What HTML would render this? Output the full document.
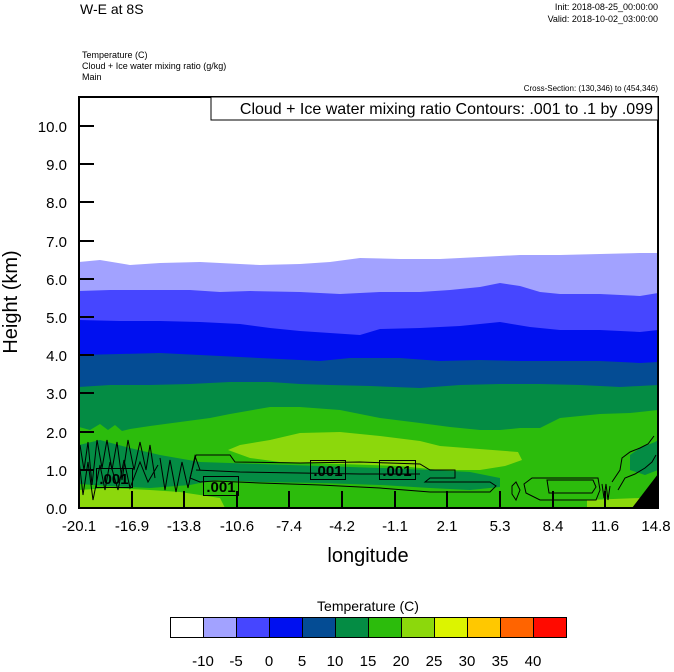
<!DOCTYPE html>
<html><head><meta charset="utf-8"><style>
body{margin:0;background:#fff;}
svg text{font-family:"Liberation Sans",Arial,sans-serif;}
</style></head><body>
<svg width="674" height="667" viewBox="0 0 674 667" xmlns="http://www.w3.org/2000/svg">
<rect width="674" height="667" fill="#fff"/>
<text x="80" y="14" font-size="14">W-E at 8S</text>
<text x="658" y="10" font-size="9" text-anchor="end">Init: 2018-08-25_00:00:00</text>
<text x="658" y="22" font-size="9" text-anchor="end">Valid: 2018-10-02_03:00:00</text>
<text x="82" y="58" font-size="9">Temperature   (C)</text>
<text x="82" y="69" font-size="9">Cloud + Ice water mixing ratio   (g/kg)</text>
<text x="82" y="80" font-size="9">Main</text>
<text x="658" y="91" font-size="8" text-anchor="end">Cross-Section: (130,346) to (454,346)</text>
<g>
<clipPath id="c"><rect x="79" y="97" width="579" height="411"/></clipPath>
<g clip-path="url(#c)">
<rect x="79" y="97" width="579" height="411" fill="#fff"/>
<polygon fill="#a2a2ff" points="79,262 100,260 130,265 160,263 200,262 240,264 260,265 300,264 330,262 360,258 400,259 440,259 480,257 520,255 560,255 600,254 640,253 658,253 658,508 79,508"/>
<polygon fill="#4646ff" points="79,291 110,290 150,290 190,290 220,292 250,291 300,292 340,294 380,292 420,292 450,290 480,287 500,283 520,286 540,292 560,294 600,294 640,296 658,293 658,508 79,508"/>
<polygon fill="#0010f0" points="79,320 120,321 160,321 200,322 240,324 270,328 300,331 330,333 360,335 380,329 420,328 460,326 500,322 530,327 560,330 600,330 640,332 658,330 658,508 79,508"/>
<polygon fill="#044c94" points="79,355 120,354 160,353 200,355 240,357 280,359 320,361 350,358 400,358 440,361 480,360 520,361 560,361 600,361 640,363 658,362 658,508 79,508"/>
<polygon fill="#048c44" points="79,387 110,385 150,385 190,384 230,382 270,382 300,384 330,385 370,386 420,388 460,385 500,384 540,384 580,385 620,387 658,385 658,508 79,508"/>
<polygon fill="#2cbc0c" points="79,427 90,430 100,424 108,430 115,425 122,431 130,429 150,426 180,422 210,418 230,414 270,407 300,407 340,410 380,418 420,423 450,427 480,430 500,430 520,428 540,428 550,423 560,418 580,416 600,414 630,413 658,410 658,508 79,508"/>
<polygon fill="#8cd80c" points="228,450 240,445 270,440 300,433 340,432 380,436 420,441 440,446 518,452 522,460 505,466 480,470 440,470 400,466 340,464 280,462 250,458"/>
<polygon fill="#048c44" points="79,445 100,440 130,448 160,455 200,462 260,464 320,466 380,468 430,470 470,472 500,478 500,487 470,490 430,488 380,485 320,483 260,482 215,480 190,485 150,488 110,486 79,484"/>
<polygon fill="#048c44" points="630,455 640,448 655,442 658,440 658,470 645,475 630,470"/>
<polygon fill="#8cd80c" points="79,490 110,488 150,490 180,492 220,498 225,508 79,508"/>
<polygon fill="#8cd80c" points="587,500 640,498 645,508 587,508"/>
<polygon fill="#000" points="658,474 658,508 632,508"/>
<g fill="none" stroke="#000" stroke-width="1">
<path d="M80,445 L84,470 L88,442 L92,485 L97,440 L102,468 L107,440 L112,470 L117,442 L122,480 L128,440 L134,470 L140,442 L146,470 L150,445 L155,478"/>
<path d="M79,460 L83,495 L88,462 L93,500 L100,465 L105,490 L110,462 L118,490 L124,460 L130,488 L140,462 L148,482 L158,465"/>
<path d="M160,458 L165,490 L170,460 L176,492 L182,462 L188,488 L195,456 L200,470"/>
<path d="M196,455 L230,455 L235,462 L300,463 L360,462 L420,464 L430,470 L455,470 L455,478 L430,478 L425,482 L490,482 L496,486 L490,492 L430,492 L380,488 L320,485 L260,483 L215,481 L200,482 L190,478 Z"/>
<path d="M196,470 L240,472 L300,473 L360,474 L420,474"/>
<path d="M512,486 L516,482 L520,490 L516,500 L512,494 Z"/>
<path d="M524,484 L532,478 L598,478 L600,490 L596,500 L540,500 L526,493 Z"/>
<path d="M547,480 L593,480 L596,487 L592,493 L549,493 Z"/>
<path d="M602,484 L604,498 L606,484 L608,500 L610,486"/>
<path d="M612,482 L620,470 L622,458 L630,452 L640,448 L648,444 L654,436"/>
<path d="M618,490 L625,478 L635,474 L645,468 L652,462 L656,455"/>
</g>
<g stroke="#000" stroke-width="1" fill="none">
<rect x="96.5" y="468.5" width="36" height="19"/>
<rect x="203.5" y="476.5" width="35" height="19"/>
<rect x="310.5" y="460.5" width="35" height="19"/>
<rect x="379.5" y="460.5" width="36" height="19"/>
</g>
<g font-size="15" font-weight="bold" text-anchor="middle">
<text x="114" y="484">.001</text>
<text x="221" y="492">.001</text>
<text x="328" y="476">.001</text>
<text x="397" y="476">.001</text>
</g>
</g>
<rect x="79" y="97" width="579" height="411" fill="none" stroke="#000" stroke-width="2"/>
<rect x="211" y="97" width="447" height="23" fill="#fff" stroke="#000" stroke-width="1"/>
<text x="653" y="114" font-size="16" text-anchor="end">Cloud + Ice water mixing ratio Contours: .001 to .1 by .099</text>
</g>
<g stroke="#000" stroke-width="2">
<line x1="79" y1="126" x2="94" y2="126"/><line x1="79" y1="164" x2="94" y2="164"/>
<line x1="79" y1="202" x2="94" y2="202"/><line x1="79" y1="241" x2="94" y2="241"/>
<line x1="79" y1="279" x2="94" y2="279"/><line x1="79" y1="317" x2="94" y2="317"/>
<line x1="79" y1="355" x2="94" y2="355"/><line x1="79" y1="393" x2="94" y2="393"/>
<line x1="79" y1="432" x2="94" y2="432"/><line x1="79" y1="470" x2="94" y2="470"/>
<line x1="132" y1="491" x2="132" y2="508"/><line x1="184" y1="491" x2="184" y2="508"/>
<line x1="237" y1="491" x2="237" y2="508"/><line x1="289" y1="491" x2="289" y2="508"/>
<line x1="342" y1="491" x2="342" y2="508"/><line x1="395" y1="491" x2="395" y2="508"/>
<line x1="447" y1="491" x2="447" y2="508"/><line x1="500" y1="491" x2="500" y2="508"/>
<line x1="553" y1="491" x2="553" y2="508"/><line x1="605" y1="491" x2="605" y2="508"/>
</g>
<g font-size="15" text-anchor="end">
<text x="67" y="132">10.0</text><text x="67" y="170">9.0</text><text x="67" y="208">8.0</text>
<text x="67" y="247">7.0</text><text x="67" y="285">6.0</text><text x="67" y="323">5.0</text>
<text x="67" y="361">4.0</text><text x="67" y="399">3.0</text><text x="67" y="438">2.0</text>
<text x="67" y="476">1.0</text><text x="67" y="514">0.0</text>
</g>
<g font-size="15" text-anchor="middle">
<text x="79" y="531">-20.1</text><text x="132" y="531">-16.9</text><text x="184" y="531">-13.8</text>
<text x="237" y="531">-10.6</text><text x="289" y="531">-7.4</text><text x="342" y="531">-4.2</text>
<text x="395" y="531">-1.1</text><text x="447" y="531">2.1</text><text x="500" y="531">5.3</text>
<text x="553" y="531">8.4</text><text x="605" y="531">11.6</text><text x="656" y="531">14.8</text>
</g>
<text x="368" y="562" font-size="20" text-anchor="middle">longitude</text>
<text transform="translate(17,302) rotate(-90)" font-size="20" text-anchor="middle">Height (km)</text>
<text x="368" y="611" font-size="14" text-anchor="middle">Temperature  (C)</text>
<g stroke="#000" stroke-width="1">
<rect x="170.5" y="617.5" width="33" height="20" fill="#fff"/>
<rect x="203.5" y="617.5" width="33" height="20" fill="#a2a2ff"/>
<rect x="236.5" y="617.5" width="33" height="20" fill="#4646ff"/>
<rect x="269.5" y="617.5" width="33" height="20" fill="#0010f0"/>
<rect x="302.5" y="617.5" width="33" height="20" fill="#044c94"/>
<rect x="335.5" y="617.5" width="33" height="20" fill="#048c44"/>
<rect x="368.5" y="617.5" width="33" height="20" fill="#2cbc0c"/>
<rect x="401.5" y="617.5" width="33" height="20" fill="#8cd80c"/>
<rect x="434.5" y="617.5" width="33" height="20" fill="#dcf400"/>
<rect x="467.5" y="617.5" width="33" height="20" fill="#ffc800"/>
<rect x="500.5" y="617.5" width="33" height="20" fill="#ff6400"/>
<rect x="533.5" y="617.5" width="33" height="20" fill="#ff0a00"/>
</g>
<g font-size="15" text-anchor="middle">
<text x="203" y="666">-10</text><text x="236" y="666">-5</text><text x="269" y="666">0</text>
<text x="302" y="666">5</text><text x="335" y="666">10</text><text x="368" y="666">15</text>
<text x="401" y="666">20</text><text x="434" y="666">25</text><text x="467" y="666">30</text>
<text x="500" y="666">35</text><text x="533" y="666">40</text>
</g>
</svg>
</body></html>
